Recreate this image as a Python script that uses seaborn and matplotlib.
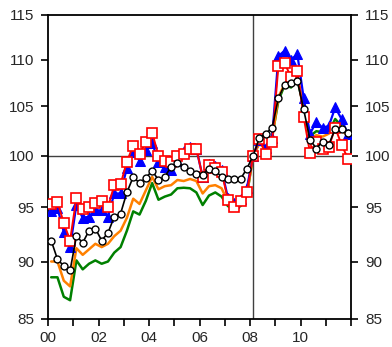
# Index comparison chart, quarterly 2000Q1-2011Q4, 2008Q1 = 100 (log scale)
import numpy as np
import pandas as pd
import matplotlib
matplotlib.use("Agg")
import matplotlib.pyplot as plt
import seaborn as sns
from matplotlib.ticker import FixedLocator, FixedFormatter, NullLocator

# ============= DATA =============
quarters = pd.period_range("2000Q1", "2011Q4", freq="Q")

blue_tri = [94.6, 94.9, 92.7, 91.3, 95.2, 94.0, 94.1, 94.7, 94.7, 94.1, 96.3, 96.3,
            98.8, 100.4, 99.5, 100.6, 101.3, 99.35, 98.9, 98.6, 99.45, 100.5, 100.9, 100.7,
            97.9, 99.2, 99.0, 98.6, 95.9, 95.4, 95.8, 96.8, 100.0, 101.6, 100.8, 101.8,
            110.4, 111.0, 110.0, 110.6, 105.9, 102.2, 103.4, 102.8, 103.0, 104.9, 103.7, 102.15]

red_sq = [95.3, 95.5, 93.5, 91.9, 95.9, 94.8, 95.0, 95.4, 95.6, 95.0, 97.1, 97.2,
          99.4, 101.0, 100.2, 101.35, 102.3, 100.0, 99.5, 99.35, 100.0, 100.2, 100.7, 100.7,
          97.9, 99.1, 98.8, 98.4, 95.7, 95.0, 95.6, 96.4, 100.0, 101.7, 100.15, 101.4,
          109.3, 109.6, 108.1, 108.8, 103.9, 100.3, 101.4, 100.7, 100.9, 102.8, 101.1, 99.7]

black_circ = [91.9, 90.2, 89.6, 89.2, 92.3, 91.7, 92.8, 93.0, 91.9, 92.6, 94.1, 94.4,
              96.4, 97.9, 97.3, 97.8, 98.5, 97.6, 97.9, 98.9, 99.3, 98.9, 98.5, 98.2,
              98.1, 98.7, 98.5, 97.9, 97.7, 97.7, 97.7, 98.7, 100.0, 101.8, 102.2, 102.8,
              105.9, 107.3, 107.5, 107.7, 104.7, 101.6, 100.7, 101.4, 101.1, 102.7, 102.7, 102.3]

orange_ln = [90.0, 90.0, 88.3, 87.8, 91.2, 90.6, 91.1, 91.6, 91.3, 91.6, 92.3, 92.8,
             94.0, 95.8, 95.3, 96.6, 97.9, 96.7, 97.0, 97.1, 97.6, 97.5, 97.7, 97.5,
             96.3, 97.0, 97.1, 96.8, 95.5, 95.1, 95.5, 96.2, 100.0, 101.2, 100.6, 101.7,
             106.0, 107.4, 107.3, 108.2, 105.0, 101.55, 102.05, 101.9, 102.2, 103.3, 102.55, 102.0]

green_ln = [88.6, 88.6, 86.9, 86.6, 90.1, 89.3, 89.8, 90.1, 89.8, 90.0, 90.8, 91.3,
            92.8, 94.6, 94.3, 95.6, 97.3, 95.7, 96.0, 96.2, 96.8, 96.85, 96.8, 96.4,
            95.2, 96.1, 96.4, 96.0, 95.1, 94.8, 95.1, 96.1, 100.0, 101.3, 100.9, 101.9,
            105.6, 107.3, 107.0, 107.9, 104.9, 101.95, 102.45, 102.35, 102.4, 103.7, 102.95, 102.4]

y_ticks = [85, 90, 95, 100, 105, 110, 115]
year_ticks = list(range(2000, 2013))
year_labels = ["00", "", "02", "", "04", "", "06", "", "08", "", "10", "", ""]

# ============= PLOTTING =============
sns.set_style("ticks")
plt.rcParams['font.family'] = ['Liberation Sans', 'DejaVu Sans']

# quarterly observations plotted at mid-quarter
t = np.array([q.year + (q.quarter - 0.5) / 4 for q in quarters])
df = pd.DataFrame({"t": t, "blue": blue_tri, "red": red_sq, "black": black_circ,
                   "orange": orange_ln, "green": green_ln})

fig = plt.figure(figsize=(3.92, 3.47), dpi=100)
ax = fig.add_axes([48 / 392, 1 - 319 / 347, 303 / 392, 304 / 347])
ax.set_yscale('log')

ax.axhline(100, color='#404040', lw=1.0, zorder=1)
ax.axvline(df['t'].iloc[32], color='#404040', lw=1.0, zorder=1)

sns.lineplot(data=df, x='t', y='green', color='#008000', lw=1.8, ax=ax, zorder=2)
sns.lineplot(data=df, x='t', y='orange', color='#ff8000', lw=1.8, ax=ax, zorder=3)
sns.lineplot(data=df, x='t', y='blue', color='#0000ff', lw=1.6, marker='^', markersize=6.5,
             markeredgecolor='#0000ff', markerfacecolor='#0000ff', ax=ax, zorder=4)
sns.lineplot(data=df, x='t', y='red', color='#ff0000', lw=1.4, marker='s', markersize=6.5,
             markeredgecolor='#ff0000', markerfacecolor='white', markeredgewidth=1.2, ax=ax, zorder=5)
sns.lineplot(data=df, x='t', y='black', color='black', lw=1.2, marker='o', markersize=5,
             markeredgecolor='black', markerfacecolor='white', markeredgewidth=1.0, ax=ax, zorder=6)

ax.set_xlim(2000, 2012)
ax.set_ylim(85, 115)
ax.yaxis.set_major_locator(FixedLocator(y_ticks))
ax.yaxis.set_major_formatter(FixedFormatter([str(v) for v in y_ticks]))
ax.yaxis.set_minor_locator(NullLocator())
ax.xaxis.set_major_locator(FixedLocator(year_ticks))
ax.xaxis.set_major_formatter(FixedFormatter(year_labels))
ax.xaxis.set_minor_locator(NullLocator())

ax.tick_params(axis='y', which='major', left=True, right=True, labelleft=True, labelright=True,
               direction='out', length=5, width=1.2, pad=5, labelsize=11, color='black')
ax.tick_params(axis='x', which='major', bottom=True, top=False, direction='out',
               length=5, width=1.2, pad=4, labelsize=11, color='black')
ax.set_xlabel("")
ax.set_ylabel("")
for s in ax.spines.values():
    s.set_visible(True)
    s.set_linewidth(1.3)
    s.set_color('black')
ax.grid(False)

fig.savefig("out.png", dpi=100)
